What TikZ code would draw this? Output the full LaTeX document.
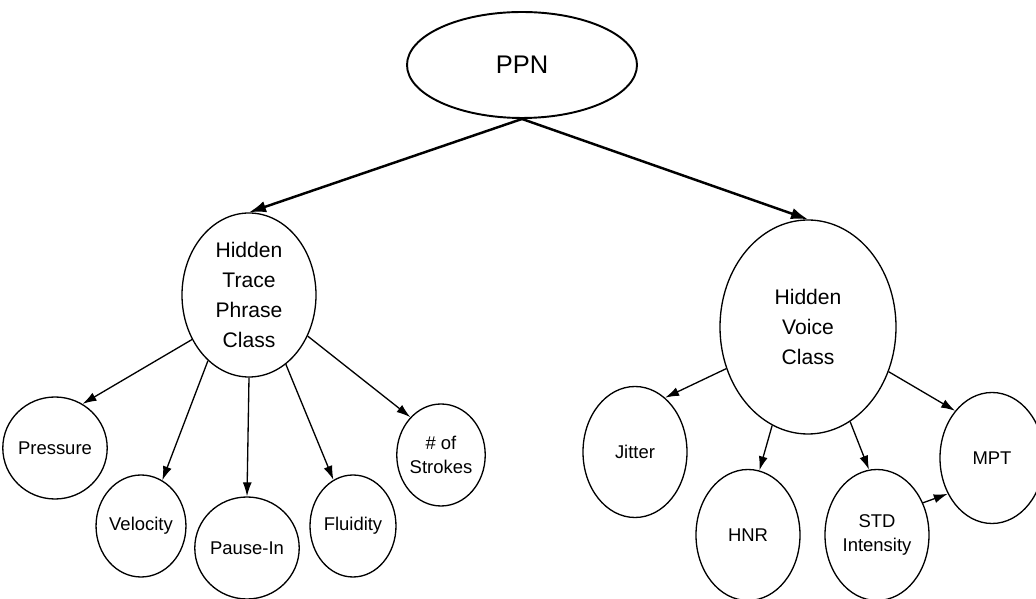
\documentclass[tikz,border=0pt]{standalone}
\usepackage{fontspec}
\setmainfont{Liberation Sans}
\usetikzlibrary{arrows.meta, shapes.geometric}

\begin{document}
\begin{tikzpicture}[
    feat/.style = {draw, ellipse, line width = .75pt, inner sep = 0pt, align = center,
                   minimum width = 1.72cm, minimum height = 2.04cm, font = \fontsize{10.5}{14}\selectfont},
    voice/.style = {feat, minimum width = 2.08cm, minimum height = 2.62cm},
    link/.style = {-{Latex[length = 2.8mm, width = 1.8mm]}, line width = .75pt},
    toplink/.style = {-{Latex[length = 3.4mm, width = 2.3mm]}, line width = 1.4pt}
  ]

    \useasboundingbox (0,0) rectangle (20.72,11.98);

    \node [draw, ellipse, line width = 1.1pt, minimum width = 4.6cm, minimum height = 2.12cm,
           font = \fontsize{14.5}{17}\selectfont] (ppn) at (10.44, 10.68) {PPN};

    \node [feat, minimum width = 2.68cm, minimum height = 3.28cm, font = \fontsize{12}{17}\selectfont]
      (trace) at (4.98, 6.08) {Hidden\\Trace\\Phrase\\Class};
    \node [feat, minimum width = 3.52cm, minimum height = 4.28cm, font = \fontsize{12}{17}\selectfont]
      (voice) at (16.16, 5.44) {Hidden\\Voice\\Class};

    % trace features
    \node [feat] (pressure) at (1.10, 3.02) {Pressure};
    \node [feat] (velocity) at (2.82, 1.46) {Velocity};
    \node [feat] (pausein)  at (4.94, 1.02) {Pause-In};
    \node [feat] (fluidity) at (7.06, 1.46) {Fluidity};
    \node [feat] (strokes)  at (8.82, 2.88) {\# of\\Strokes};

    % voice features
    \node [voice] (jitter) at (12.70, 2.94) {Jitter};
    \node [voice] (hnr)    at (14.96, 1.28) {HNR};
    \node [voice] (std)    at (17.54, 1.28) {STD\\Intensity};
    \node [voice] (mpt)    at (19.84, 2.82) {MPT};

    \draw [toplink] (ppn.south) -- (trace.north);
    \draw [toplink] (ppn.south) -- (voice.north);

    \draw [link] (trace.218) -- (pressure.58);
    \draw [link] (trace.238) -- (velocity.65);
    \draw [link] (trace.south) -- (pausein.north);
    \draw [link] (trace.298) -- (fluidity.113);
    \draw [link] (trace.325) -- (strokes.129);

    \draw [link] (voice.207) -- (jitter.61);
    \draw [link] (voice.250) -- (hnr.80);
    \draw [link] (voice.294) -- (std.97);
    \draw [link] (voice.331) -- (mpt.128);
    \draw [link] (std.35) -- (mpt.219);

\end{tikzpicture}
\end{document}
